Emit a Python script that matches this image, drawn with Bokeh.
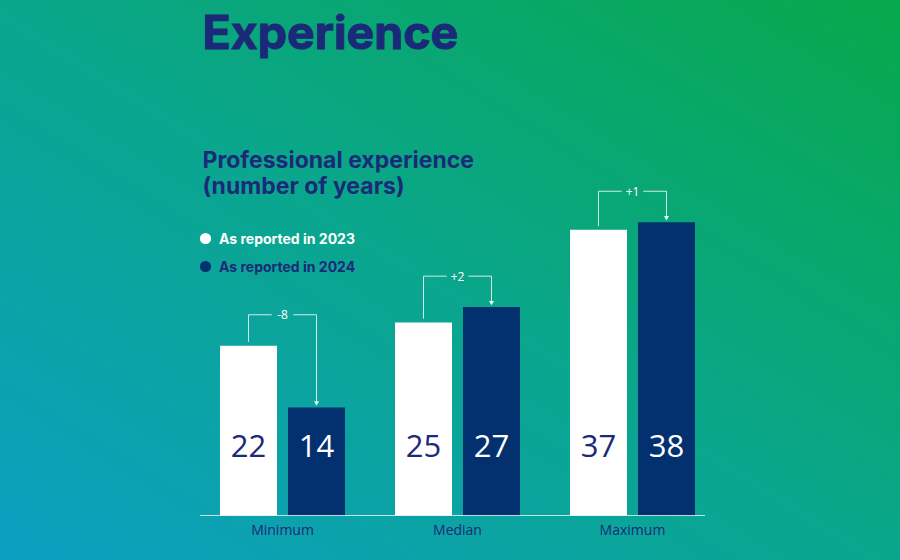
from bokeh.plotting import figure
from bokeh.models import (FactorRange, Range1d, ColumnDataSource, Label, Legend,
                          LegendItem, GlobalInlineStyleSheet)
from bokeh.transform import dodge
from bokeh.core.properties import value
from bokeh.embed import file_html
from bokeh.resources import INLINE

# ---------------- data ----------------
categories = ["Minimum", "Median", "Maximum"]
years = ["2023", "2024"]
values_2023 = [22, 25, 37]
values_2024 = [14, 27, 38]
legend_labels = ["As reported in 2023", "As reported in 2024"]
title_text = "Experience"
subtitle_lines = ["Professional experience", "(number of years)"]

# ---------------- styles ----------------
NAVY = "#03306e"
TEXT_NAVY = "#1b2a78"
WHITE = "#ffffff"
bar_colors = {"2023": WHITE, "2024": NAVY}
label_colors = {"2023": TEXT_NAVY, "2024": WHITE}
HEAD_FONT = "Inter"
BODY_FONT = "Open Sans"

W, H = 884, 544
FL = 30  # frame left (page px)

x_range = FactorRange(*[(c, y) for c in categories for y in years],
                      factor_padding=0.133, group_padding=0.783,
                      range_padding=3.133, range_padding_units="absolute")
y_range = Range1d(-3.76, 66.71)

p = figure(width=W, height=H, x_range=x_range, y_range=y_range,
           output_backend="svg", toolbar_location=None,
           x_axis_location=None, y_axis_location=None,
           min_border=0, min_border_left=FL, min_border_right=0)
p.outline_line_color = None
p.background_fill_color = None
p.border_fill_color = None
p.grid.visible = False
p.stylesheets = [GlobalInlineStyleSheet(css="""
html { height: 100%; background: linear-gradient(to top right, #0d9fc2 0%, #0aa68c 50%, #08a84c 100%); }
body { background: transparent; }
""")]

# ---------------- bars ----------------
xs, tops, cols, tcols, labels = [], [], [], [], []
for i, c in enumerate(categories):
    for y, v in zip(years, (values_2023[i], values_2024[i])):
        xs.append((c, y))
        tops.append(v)
        cols.append(bar_colors[y])
        tcols.append(label_colors[y])
        labels.append(str(v))
bars = ColumnDataSource(dict(x=xs, top=tops, color=cols, tcolor=tcols, label=labels))

p.vbar(x="x", top="top", bottom=0, width=0.95, source=bars,
       fill_color="color", line_color=None)

LABEL_Y = 9.0
p.text(x="x", y=LABEL_Y, text="label", source=bars, text_color="tcolor",
       text_align="center", text_baseline="middle",
       text_font=value(BODY_FONT), text_font_size="31px")

# baseline
base = ColumnDataSource(dict(first=[(categories[0], years[0])],
                             last=[(categories[-1], years[-1])]))
p.segment(x0=dodge("first", -0.81, range=x_range), y0=0,
          x1=dodge("last", 0.64, range=x_range), y1=0, source=base,
          line_color=WHITE, line_alpha=0.75, line_width=1)

# category labels
cats = ColumnDataSource(dict(cat=categories))
p.text(x="cat", y=-1.85, text="cat", source=cats, text_color=TEXT_NAVY,
       text_align="center", text_baseline="middle",
       text_font=value(BODY_FONT), text_font_size="14px")

# ---------------- change brackets ----------------
br = ColumnDataSource(dict(
    cat=categories,
    xw=[(c, years[0]) for c in categories],
    xn=[(c, years[1]) for c in categories],
    yw=[a + 0.5 for a in values_2023],
    yn=[b + 0.6 for b in values_2024],
    yb=[max(a, b) + 4.0 for a, b in zip(values_2023, values_2024)],
    diff=[f"{b - a:+d}" for a, b in zip(values_2023, values_2024)],
))
GAP = 0.18
lk = dict(line_color=WHITE, line_alpha=0.8, line_width=1, source=br)
p.segment(x0="xw", y0="yw", x1="xw", y1="yb", **lk)
p.segment(x0="xw", y0="yb", x1=dodge("cat", -GAP, range=x_range), y1="yb", **lk)
p.segment(x0=dodge("cat", GAP, range=x_range), y0="yb", x1="xn", y1="yb", **lk)
p.segment(x0="xn", y0="yb", x1="xn", y1="yn", **lk)
p.scatter(x="xn", y="yn", marker="inverted_triangle", size=5, source=br,
          fill_color=WHITE, line_color=None, fill_alpha=0.9)
p.text(x="cat", y="yb", text="diff", source=br, text_color=WHITE,
       text_align="center", text_baseline="middle",
       text_font=value(BODY_FONT), text_font_size="12px")

# ---------------- titles ----------------
def put_text(txt, page_x, page_baseline, size, heavy):
    extra = dict(text_outline_color=TEXT_NAVY) if heavy else {}
    p.add_layout(Label(x=page_x - FL, y=H - page_baseline + 0.39 * size,
                       x_units="screen", y_units="screen",
                       text=txt, text_color=TEXT_NAVY, text_font=HEAD_FONT,
                       text_font_style="bold", text_font_size=f"{size}px",
                       text_baseline="alphabetic", **extra))

put_text(title_text, 202, 50, 46.5, True)
for txt, bl in zip(subtitle_lines, (168, 194)):
    put_text(txt, 202, bl, 23, False)

# ---------------- legend ----------------
leg_src = ColumnDataSource(dict(x=[categories[0]], y=[float("nan")]))
dot23 = p.scatter(x="x", y="y", source=leg_src, marker="circle",
                  fill_color=WHITE, line_color=None)
dot24 = p.scatter(x="x", y="y", source=leg_src, marker="circle",
                  fill_color=NAVY, line_color=None)
GW = 28
for r, lab, col, cy in ((dot23, legend_labels[0], WHITE, 238),
                        (dot24, legend_labels[1], TEXT_NAVY, 266)):
    lg = Legend(items=[LegendItem(label=lab, renderers=[r])],
                location=(205 - GW // 2 - FL, H - (cy + 15)),
                glyph_width=GW, glyph_height=30, label_standoff=0,
                label_text_font=HEAD_FONT, label_text_font_style="bold",
                label_text_font_size="14px", label_text_color=col,
                label_height=30, padding=0, margin=0, spacing=0,
                background_fill_alpha=0, border_line_color=None)
    p.add_layout(lg)

open("out.html", "w").write(file_html(p, INLINE))
